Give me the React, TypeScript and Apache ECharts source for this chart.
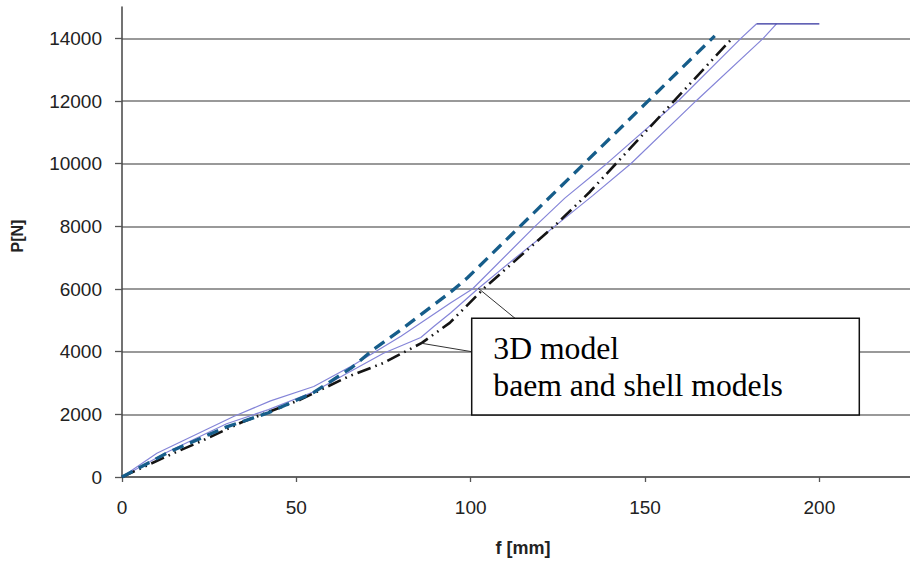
import React, { useEffect, useRef } from "react";
import * as echarts from "echarts";

// f [mm], P [N]
const dashedModel: [number, number][] = [
  [0, 0], [13, 770], [30, 1600], [42, 2050], [55, 2700], [66, 3500], [72, 4060],
  [80, 4700], [94, 5880], [99, 6350], [170, 14080],
];
const dashDotModel: [number, number][] = [
  [0, 0], [15, 770], [22.5, 1130], [34, 1730], [51, 2460], [65, 3210], [75, 3640],
  [86, 4280], [94, 4920], [104, 6040], [124, 8010], [134, 9080], [142, 10040],
  [160, 12200], [175, 14000],
];
const upperThin: [number, number][] = [
  [0, 0], [10, 760], [32, 1930], [42.6, 2430], [55, 2890], [66.5, 3580], [80, 4490],
  [94.3, 5560], [100.5, 6000], [118, 7950], [127, 8900], [139, 10000], [159.5, 12000],
  [177.5, 14000], [182, 14464],
];
const lowerThin: [number, number][] = [
  [0, 0], [13, 800], [30, 1700], [42, 2150], [55, 2720], [66, 3400], [75, 3950],
  [85.7, 4450], [89.5, 4810], [94.3, 5240], [102, 6000], [112, 6920], [124, 7990],
  [135, 8980], [146, 10006], [164.7, 12010], [183.9, 14000], [187.7, 14464],
];
const plateau: [number, number][] = [[182, 14464], [200, 14464]];

const xTicks = [0, 50, 100, 150, 200];
const yTicks = [0, 2000, 4000, 6000, 8000, 10000, 12000, 14000];

const noteLines = ["3D model", "baem and shell models"];

export default function App() {
  const ref = useRef<HTMLDivElement>(null);
  useEffect(() => {
    if (!ref.current) return;
    const chart = echarts.init(ref.current, null, { renderer: "svg" });
    const sans = "'Liberation Sans', Arial, sans-serif";
    const serif = "'Liberation Serif', 'Times New Roman', serif";
    const thin = (name: string, data: [number, number][], color: string, w = 1.2) => ({
      name, type: "line", data, symbol: "none", showSymbol: false,
      lineStyle: { color, width: w }, z: 2,
    });
    chart.setOption({
      animation: false,
      backgroundColor: "#fff",
      grid: { left: 122, right: 0, top: 7, bottom: 85, containLabel: false, outerBoundsMode: "none" },
      xAxis: {
        type: "value", min: 0, max: 226, interval: 50,
        name: "f [mm]", nameLocation: "middle", nameGap: 62,
        nameTextStyle: { fontFamily: sans, fontSize: 18, fontWeight: "bold", color: "#222", padding: [0, 0, 0, 14] },
        axisLine: { show: true, lineStyle: { color: "#555", width: 1.5 } },
        axisTick: { show: true, length: 5, customValues: xTicks, lineStyle: { color: "#555", width: 1.3 } },
        axisLabel: { customValues: xTicks, margin: 21, fontFamily: sans, fontSize: 19, color: "#222", formatter: (v: number) => String(v) },
        splitLine: { show: false },
      },
      yAxis: {
        type: "value", min: 0, max: 15000, interval: 2000,
        name: "P[N]", nameLocation: "middle", nameGap: 97, nameRotate: 90,
        nameTextStyle: { fontFamily: sans, fontSize: 16, fontWeight: "bold", color: "#222", padding: [0, 0, 0, 12] },
        axisLine: { show: true, lineStyle: { color: "#444", width: 1.5 } },
        axisTick: { show: true, length: 7, customValues: yTicks, lineStyle: { color: "#555", width: 1.3 } },
        axisLabel: { customValues: yTicks, margin: 20, fontFamily: sans, fontSize: 19, color: "#222", formatter: (v: number) => String(v) },
        splitLine: {
          show: true,
          lineStyle: {
            color: ["#777", "#777", "#777", "#777", "#777", "#777", "#777", "#777", "#cfcfcf"],
            width: 1.6,
          },
        },
      },
      series: [
        thin("3D model upper", upperThin, "#8585d8"),
        thin("3D model lower", lowerThin, "#8585d8"),
        thin("plateau", plateau, "#2e2e9c", 1.3),
        {
          name: "beam model", type: "line", data: dashDotModel, symbol: "none",
          lineStyle: { color: "#141414", width: 2.6, type: [14, 5, 1.6, 5, 1.6, 5], cap: "butt" }, z: 3,
        },
        {
          name: "shell model", type: "line", data: dashedModel, symbol: "none",
          lineStyle: { color: "#165d8a", width: 3.3, type: [12, 7], cap: "butt" }, z: 4,
        },
      ],
      graphic: [
        { type: "line", shape: { x1: 515, y1: 318.3, x2: 478.3, y2: 288.3 }, style: { stroke: "#333", lineWidth: 1 }, z: 10 },
        { type: "line", shape: { x1: 471.7, y1: 351.7, x2: 421.7, y2: 343.3 }, style: { stroke: "#333", lineWidth: 1 }, z: 10 },
        {
          type: "rect", shape: { x: 471.7, y: 318.3, width: 387.6, height: 96.7 },
          style: { fill: "#fff", stroke: "#111", lineWidth: 1.5 }, z: 10,
        },
        {
          type: "text", x: 493.3, y: 348.5, z: 11,
          style: { text: noteLines[0], font: `31.7px ${serif}`, fill: "#000", verticalAlign: "middle", align: "left" },
        },
        {
          type: "text", x: 493.3, y: 385.5, z: 11,
          style: { text: noteLines[1], font: `31.7px ${serif}`, fill: "#000", verticalAlign: "middle", align: "left" },
        },
      ],
    });
    return () => chart.dispose();
  }, []);
  return <div ref={ref} style={{ position: "absolute", left: 0, top: 0, width: 910, height: 562 }} />;
}
